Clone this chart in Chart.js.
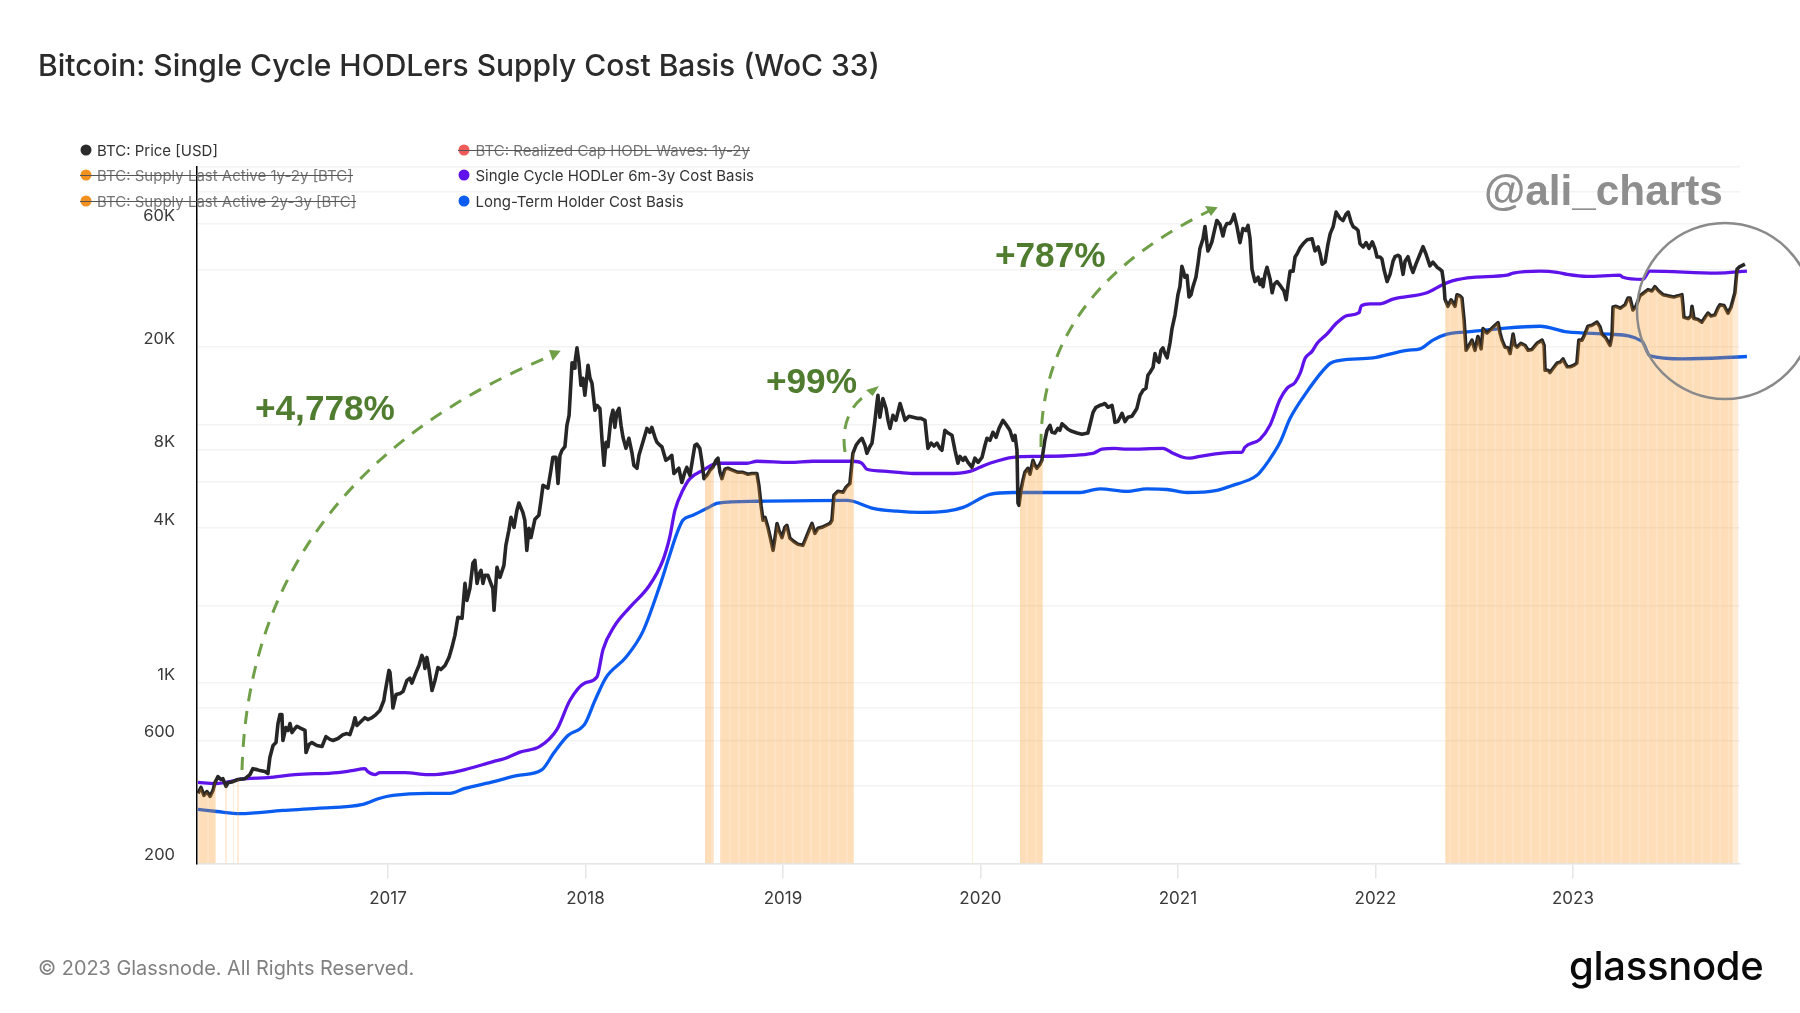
<!DOCTYPE html>
<html><head><meta charset="utf-8">
<script src="https://cdn.jsdelivr.net/npm/chart.js@4"></script>
<style>
html,body{margin:0;padding:0;background:#fff;width:1800px;height:1013px;overflow:hidden}
#wrap{position:relative;width:1800px;height:1013px;font-family:Inter,sans-serif}
canvas{position:absolute;left:0;top:0}
.t{position:absolute;white-space:nowrap;line-height:1}
.lg{position:absolute;white-space:nowrap;font-size:15px;line-height:1;color:#333;transform:translateY(-50%)}
.dot{position:absolute;width:11px;height:11px;border-radius:50%;transform:translate(-50%,-50%)}
.st{position:absolute;height:1.2px;background:#555}
.off{color:#777}
.g{font-family:"Liberation Sans",Arial,sans-serif;font-weight:700;font-size:35.2px;color:#4f7c2f}
</style></head><body>
<div id="wrap">
<canvas id="c" width="1800" height="1013"></canvas>
<div class="t" style="left:38px;top:50px;font-size:30px;font-weight:500;color:#2b2b2b" id="title">Bitcoin: Single Cycle HODLers Supply Cost Basis (WoC 33)</div>
<div id="legend"></div>
<div class="t g" style="left:255px;top:390px">+4,778%</div>
<div class="t g" style="left:766px;top:363px">+99%</div>
<div class="t g" style="left:995px;top:237px">+787%</div>
<div class="t" style="left:1484px;top:170px;font-family:'Liberation Sans',Arial,sans-serif;font-weight:700;font-size:42.3px;color:#8e8e8e">@ali_charts</div>
<div class="t" style="left:38px;top:958.5px;font-size:19.9px;color:#808080">© 2023 Glassnode. All Rights Reserved.</div>
<div class="t" style="left:1569px;top:946px;font-size:40px;font-weight:500;color:#0a0a0a;letter-spacing:-.3px">glassnode</div>
</div>
<script>
const legendLeft=[["BTC: Price [USD]","#2b2b2b",false],["BTC: Supply Last Active 1y-2y [BTC]","#f2911f",true],["BTC: Supply Last Active 2y-3y [BTC]","#f2911f",true]];
const legendRight=[["BTC: Realized Cap HODL Waves: 1y-2y","#ef5a5a",true],["Single Cycle HODLer 6m-3y Cost Basis","#5f12ea",false],["Long-Term Holder Cost Basis","#0a5cf0",false]];
const xTickYears=[2017,2018,2019,2020,2021,2022,2023];
const yGridValues=[200,400,600,800,1000,2000,4000,6000,8000,10000,20000,40000,60000,80000,100000];
const yLabels={200:"200",600:"600",1000:"1K",4000:"4K",8000:"8K",20000:"20K",60000:"60K"};

const priceYears=[
2016.038,2016.053,2016.068,2016.083,2016.099,2016.114,2016.124,2016.139,2016.154,2016.164,2016.180,2016.190,2016.215,2016.240,2016.276,2016.301,2016.316,2016.337,2016.352,2016.377,2016.392,2016.402,2016.418,2016.433,2016.443,2016.453,2016.463,2016.468,2016.483,2016.494,2016.504,2016.514,2016.529,2016.539,2016.559,2016.580,2016.585,2016.600,2016.615,2016.640,2016.666,2016.686,2016.706,2016.722,2016.747,2016.772,2016.792,2016.807,2016.823,2016.833,2016.843,2016.858,2016.883,2016.898,2016.919,2016.939,2016.959,2016.979,2016.984,
2017.005,2017.010,2017.020,2017.025,2017.041,2017.061,2017.076,2017.096,2017.111,2017.121,2017.142,2017.157,2017.172,2017.182,2017.187,2017.197,2017.207,2017.223,2017.238,2017.253,2017.268,2017.289,2017.309,2017.324,2017.339,2017.354,2017.375,2017.390,2017.400,2017.415,2017.430,2017.440,2017.451,2017.461,2017.471,2017.481,2017.491,2017.506,2017.521,2017.531,2017.537,2017.552,2017.567,2017.587,2017.597,2017.612,2017.623,2017.638,2017.653,2017.663,2017.683,2017.693,2017.703,2017.714,2017.724,2017.744,2017.764,2017.775,2017.785,2017.810,2017.825,2017.835,2017.851,2017.861,2017.871,2017.881,2017.896,2017.906,2017.917,2017.927,2017.932,2017.942,2017.947,2017.957,2017.967,2017.977,2017.987,2017.997,
2018.013,2018.023,2018.033,2018.048,2018.058,2018.073,2018.084,2018.094,2018.104,2018.114,2018.129,2018.139,2018.149,2018.159,2018.170,2018.180,2018.190,2018.205,2018.220,2018.235,2018.245,2018.261,2018.271,2018.286,2018.301,2018.311,2018.326,2018.336,2018.352,2018.362,2018.377,2018.387,2018.407,2018.422,2018.437,2018.448,2018.463,2018.473,2018.488,2018.503,2018.513,2018.529,2018.544,2018.554,2018.564,2018.579,2018.590,2018.600,2018.615,2018.630,2018.645,2018.661,2018.671,2018.681,2018.691,2018.706,2018.721,2018.747,2018.772,2018.797,2018.823,2018.843,2018.868,2018.878,2018.889,2018.899,2018.909,2018.924,2018.939,2018.950,2018.960,2018.970,2018.980,2018.995,
2019.010,2019.020,2019.035,2019.056,2019.076,2019.101,2019.116,2019.132,2019.147,2019.162,2019.177,2019.197,2019.218,2019.238,2019.248,2019.258,2019.278,2019.304,2019.319,2019.339,2019.354,2019.370,2019.385,2019.400,2019.415,2019.425,2019.440,2019.451,2019.466,2019.476,2019.481,2019.491,2019.506,2019.522,2019.532,2019.542,2019.557,2019.572,2019.593,2019.608,2019.618,2019.638,2019.659,2019.679,2019.699,2019.719,2019.734,2019.750,2019.765,2019.780,2019.795,2019.805,2019.820,2019.836,2019.856,2019.871,2019.886,2019.896,2019.912,2019.922,2019.937,2019.957,2019.972,2019.988,
2020.008,2020.023,2020.033,2020.048,2020.063,2020.079,2020.094,2020.114,2020.129,2020.149,2020.165,2020.175,2020.185,2020.190,2020.195,2020.205,2020.215,2020.225,2020.240,2020.251,2020.266,2020.276,2020.286,2020.301,2020.311,2020.326,2020.337,2020.352,2020.362,2020.377,2020.392,2020.402,2020.413,2020.428,2020.443,2020.463,2020.489,2020.514,2020.544,2020.554,2020.570,2020.585,2020.605,2020.620,2020.630,2020.646,2020.666,2020.676,2020.681,2020.696,2020.717,2020.732,2020.747,2020.767,2020.792,2020.808,2020.823,2020.838,2020.848,2020.858,2020.874,2020.884,2020.894,2020.904,2020.914,2020.924,2020.934,2020.945,2020.960,2020.970,2020.985,
2021.000,2021.010,2021.020,2021.030,2021.035,2021.046,2021.056,2021.066,2021.076,2021.091,2021.101,2021.111,2021.127,2021.137,2021.147,2021.152,2021.162,2021.172,2021.187,2021.197,2021.213,2021.228,2021.238,2021.248,2021.263,2021.273,2021.284,2021.299,2021.314,2021.329,2021.344,2021.355,2021.365,2021.375,2021.390,2021.406,2021.416,2021.426,2021.431,2021.441,2021.451,2021.467,2021.477,2021.487,2021.502,2021.522,2021.537,2021.548,2021.558,2021.568,2021.583,2021.593,2021.603,2021.619,2021.634,2021.654,2021.679,2021.694,2021.710,2021.720,2021.730,2021.745,2021.760,2021.771,2021.786,2021.801,2021.821,2021.836,2021.851,2021.862,2021.877,2021.887,2021.902,2021.912,2021.922,2021.938,2021.953,2021.968,2021.984,2021.998,
2022.008,2022.023,2022.033,2022.043,2022.059,2022.074,2022.089,2022.099,2022.114,2022.124,2022.140,2022.150,2022.165,2022.180,2022.190,2022.205,2022.226,2022.241,2022.256,2022.276,2022.291,2022.312,2022.327,2022.337,2022.347,2022.352,2022.367,2022.383,2022.403,2022.413,2022.428,2022.438,2022.449,2022.459,2022.474,2022.489,2022.504,2022.519,2022.535,2022.545,2022.565,2022.580,2022.600,2022.621,2022.631,2022.641,2022.656,2022.671,2022.682,2022.697,2022.707,2022.717,2022.737,2022.758,2022.773,2022.793,2022.818,2022.844,2022.854,2022.859,2022.874,2022.884,2022.900,2022.920,2022.935,2022.950,2022.960,2022.971,2022.986,
2023.005,2023.020,2023.030,2023.046,2023.061,2023.076,2023.096,2023.122,2023.137,2023.147,2023.167,2023.188,2023.198,2023.203,2023.218,2023.239,2023.264,2023.279,2023.289,2023.304,2023.319,2023.339,2023.360,2023.380,2023.400,2023.415,2023.436,2023.456,2023.481,2023.511,2023.532,2023.552,2023.557,2023.562,2023.583,2023.598,2023.603,2023.613,2023.633,2023.653,2023.669,2023.684,2023.699,2023.719,2023.734,2023.744,2023.765,2023.785,2023.800,2023.820,2023.831,2023.841,2023.871];
const priceValues=[
374,394,367,380,364,384,412,434,423,426,398,411,415,423,426,442,466,462,458,454,446,515,573,588,697,755,755,599,672,655,697,643,667,680,667,655,538,578,588,573,568,620,605,599,610,631,637,631,685,734,685,703,734,722,734,755,783,856,908,
1119,1100,911,800,903,911,927,1024,1044,1000,1100,1170,1280,1224,1140,1257,1140,936,1024,1148,1128,1170,1257,1375,1530,1797,1781,2433,2091,2327,2909,2988,2433,2636,2733,2433,2613,2613,2433,2327,1913,2807,2566,2857,3415,3904,4385,4009,4667,4980,4581,4269,3266,3976,3660,4306,4463,5103,5833,5690,6668,7490,7490,5930,7622,7970,8230,9961,10890,14880,17400,16570,17470,19870,17470,14231,15150,13017,
17010,15150,14500,11387,11906,11580,8714,6972,8560,8230,10600,11387,9780,11180,11580,9961,8950,8110,8870,7830,6972,6790,7622,8334,9111,9690,9360,9780,8950,8560,8334,8230,7290,7430,7622,6480,6668,6790,5980,6550,6850,6377,7490,8334,8420,8110,7160,6190,6377,6668,6850,7290,7430,6550,6190,6730,6790,6668,6550,6550,6440,6480,6480,5833,4880,4269,4385,4009,3571,3266,3660,4150,3904,3660,
4009,4083,3640,3530,3450,3415,3640,3904,4150,3800,3976,4009,4083,4150,4269,5335,5530,5480,5730,5930,7760,8334,8640,8870,8334,7760,8230,8500,10415,12220,13017,10700,12650,11580,10415,9690,10890,10415,12100,11100,10415,10800,10700,10600,10600,10415,8110,8500,8280,8500,8110,7970,9527,9300,9111,7970,7100,7550,7290,7490,7160,6850,7430,7160,
7490,8334,8870,8714,9360,8950,9690,10415,10050,9527,8714,9111,7970,4980,4880,5580,6099,6550,6790,6440,7290,6972,6790,7030,7290,8714,9527,9961,9360,9300,9690,9527,10100,9870,9620,9440,9300,9200,9300,9961,11180,11700,11906,12000,12100,11700,11906,10890,10230,10300,11080,10300,10700,10800,11580,13017,13610,13850,15559,15950,16700,18900,17786,17470,19445,19870,18900,18190,20800,23600,26630,
31930,34300,41100,38800,37300,37900,31300,31930,34300,37300,41930,48050,52610,58600,50280,47200,48900,51200,57610,61900,59700,53900,58100,60290,60290,61900,65400,58600,50800,57610,56600,59200,52610,40070,35900,37300,34970,36590,34300,38290,40800,36590,32500,34970,35900,34300,33000,30520,34970,39400,39400,44700,45920,48600,50280,52100,52610,47200,48900,45920,41930,42700,50280,55060,58600,66700,63090,61900,65400,66700,60900,58600,57610,56600,50280,48900,50800,48300,51200,48050,
44700,44700,43880,40070,35900,38290,43000,44800,45400,44800,38290,43000,44800,40800,39000,41930,45920,49000,45920,41300,42700,40800,40070,39400,34970,30700,28800,30520,28800,31930,31600,31000,25450,19445,20300,21290,19445,22000,19700,23600,22700,23270,24100,24900,22700,21290,20000,19900,18900,22500,20300,20000,20700,20300,19445,19600,20700,21290,20300,16268,16268,15950,16570,17350,17470,18000,17350,16800,16800,
17010,17350,21290,21290,22500,24100,24320,25000,24000,22500,21700,20300,22230,28600,28800,28300,29160,31000,31000,27870,28800,31600,32500,33400,33000,34300,32900,31930,31600,31300,31600,31930,29160,26100,25800,26400,28800,25800,25600,25000,26100,27100,26400,26630,28300,29160,29000,27100,28500,32500,40070,40800,41930];

const purpleYears=[2016.038,2016.124,2016.276,2016.392,2016.529,2016.747,2016.817,2016.883,2016.898,2016.934,2016.959,2017.086,2017.202,2017.238,2017.324,2017.390,2017.536,2017.592,2017.668,2017.769,2017.855,2017.921,2017.997,2018.058,2018.089,2018.144,2018.230,2018.321,2018.392,2018.427,2018.453,2018.493,2018.529,2018.595,2018.671,2018.818,2018.868,2019.035,2019.152,2019.354,2019.400,2019.425,2019.527,2019.659,2019.831,2019.947,2019.998,2020.048,2020.165,2020.301,2020.570,2020.615,2020.681,2020.742,2020.924,2020.975,2021.025,2021.061,2021.111,2021.278,2021.324,2021.339,2021.415,2021.466,2021.517,2021.552,2021.593,2021.619,2021.644,2021.679,2021.705,2021.755,2021.806,2021.856,2021.917,2021.928,2021.973,2022.023,2022.089,2022.261,2022.342,2022.393,2022.494,2022.666,2022.697,2022.834,2022.920,2022.971,2023.071,2023.238,2023.253,2023.354,2023.390,2023.729,2023.881];
const purpleValues=[412,408,426,430,442,450,458,466,454,442,450,450,442,442,450,462,497,510,540,568,660,856,1000,1055,1350,1650,1985,2370,2988,3680,4667,5579,6190,6668,7100,7100,7230,7160,7230,7230,7100,6730,6610,6480,6480,6610,6850,7100,7490,7550,7760,8050,8110,8050,8110,7760,7490,7430,7550,7830,7830,8190,8790,9961,12560,13850,14600,15850,18100,19260,20700,22500,24900,26500,27200,28900,29400,29400,30700,32500,34970,36200,37300,38000,38700,39400,39000,38290,37600,38000,37300,36590,39400,38700,39400];

const holderYears=[2016.038,2016.134,2016.250,2016.468,2016.640,2016.873,2016.959,2017.025,2017.202,2017.314,2017.390,2017.536,2017.653,2017.780,2017.841,2017.911,2017.997,2018.048,2018.104,2018.205,2018.291,2018.377,2018.418,2018.463,2018.493,2018.544,2018.615,2018.671,2018.868,2019.324,2019.354,2019.456,2019.577,2019.693,2019.831,2019.912,2020.048,2020.165,2020.337,2020.504,2020.605,2020.742,2020.843,2020.945,2021.046,2021.197,2021.278,2021.365,2021.400,2021.415,2021.461,2021.517,2021.568,2021.634,2021.771,2021.821,2021.988,2022.160,2022.226,2022.291,2022.362,2022.463,2022.631,2022.834,2022.971,2023.188,2023.349,2023.390,2023.557,2023.881];
const holderValues=[324,318,312,321,327,339,358,367,374,374,391,415,438,462,538,626,695,856,1050,1258,1585,2390,2988,3800,4269,4463,4750,4980,5060,5103,5060,4750,4630,4581,4630,4790,5380,5470,5470,5470,5650,5530,5650,5620,5470,5579,5833,6150,6377,6550,7290,8560,10600,12800,17300,17786,18190,19445,19700,21290,22450,22900,23600,24100,22900,22450,21100,18500,18000,18400];

const bandStarts=[2016.038,2018.605,2018.681,2020.200,2022.353];
const bandEnds=[2016.128,2018.650,2019.359,2020.316,2023.810];
const bandStartValues=[374,6300,6550,5100,30700];
const bandEndValues=[420,6950,7900,7700,30000];
const faintStarts=[2016.175,2016.214,2016.235,2019.957,2023.810];
const faintEnds=[2016.185,2016.220,2016.247,2019.962,2023.838];
const faintStartValues=[409,415,420,6850,30000];
const faintEndValues=[405,418,423,6900,40000];

const pts=(xs,ys)=>xs.map((x,i)=>({x,y:ys[i]}));
function bandPoints(st,en,sv,ev){
  const out=[];
  st.forEach((s,b)=>{
    out.push({x:s,y:sv[b]});
    priceYears.forEach((yr,i)=>{if(yr>s&&yr<en[b])out.push({x:yr,y:priceValues[i]});});
    out.push({x:en[b],y:ev[b]});
    out.push({x:en[b]+0.0005,y:null});
  });
  return out;
}
// faint day-bar striping of the orange area
const pc=document.createElement('canvas');pc.width=9;pc.height=4;
const px=pc.getContext('2d');
px.fillStyle='rgba(247,147,26,0.31)';px.fillRect(0,0,9,4);
px.clearRect(0,0,2,4);px.fillStyle='rgba(247,147,26,0.26)';px.fillRect(0,0,2,4);
const stripes=px.createPattern(pc,'repeat');

// legend (real text)
const lg=document.getElementById('legend');
[[legendLeft,86,97],[legendRight,464,475.5]].forEach(([items,dx,tx])=>{
  items.forEach(([name,col,off],i)=>{
    const y=[150,175,200.5][i];
    const d=document.createElement('div');d.className='dot';d.style.cssText=`left:${dx}px;top:${y}px;background:${col}`;lg.appendChild(d);
    const t=document.createElement('div');t.className='lg'+(off?' off':'');t.style.cssText=`left:${tx}px;top:${y}px`;t.textContent=name;lg.appendChild(t);
    if(off){const w=t.getBoundingClientRect().width;
      const s=document.createElement('div');s.className='st';s.style.cssText=`left:${dx-6}px;top:${y}px;width:${tx+w-dx+6}px`;lg.appendChild(s);}
  });
});

function arc(ctx,p,tri){
  ctx.save();
  ctx.strokeStyle='#6f9f47';ctx.fillStyle='#6f9f47';ctx.lineWidth=3;ctx.setLineDash([13,10]);
  ctx.beginPath();ctx.moveTo(p[0],p[1]);ctx.bezierCurveTo(p[2],p[3],p[4],p[5],p[6],p[7]);ctx.stroke();
  ctx.setLineDash([]);
  ctx.beginPath();ctx.moveTo(tri[0],tri[1]);ctx.lineTo(tri[2],tri[3]);ctx.lineTo(tri[4],tri[5]);ctx.closePath();ctx.fill();
  ctx.restore();
}
const annotate={id:'annotate',afterDraw(ch){
  const c=ch.ctx;
  arc(c,[242,770,248,560,370,430,553,355],[549,350,560.7,350.7,552.7,360.7]);
  arc(c,[845,452,840,420,855,400,871,392],[879,386,866,390,872.7,396]);
  arc(c,[1041,447,1040,330,1110,260,1209,211],[1205,206,1217.7,207.3,1211,216]);
  c.save();c.strokeStyle='#8a8a8a';c.lineWidth=2.5;c.beginPath();c.arc(1725,311,88,0,Math.PI*2);c.stroke();c.restore();
}};

new Chart(document.getElementById('c'),{
  type:'line',
  plugins:[annotate],
  data:{datasets:[
    {label:'Supply band',data:bandPoints(bandStarts,bandEnds,bandStartValues,bandEndValues),borderWidth:0,borderColor:'transparent',backgroundColor:stripes,fill:'start',pointRadius:0,tension:0,spanGaps:false},
    {label:'Supply band faint',data:bandPoints(faintStarts,faintEnds,faintStartValues,faintEndValues),borderWidth:0,borderColor:'transparent',backgroundColor:'rgba(247,147,26,0.18)',fill:'start',pointRadius:0,tension:0,spanGaps:false},
    {label:'BTC: Price [USD]',data:pts(priceYears,priceValues),borderColor:'#262626',borderWidth:3.6,pointRadius:0,tension:0,fill:false,borderJoinStyle:'round',clip:false},
    {label:'Single Cycle HODLer 6m-3y Cost Basis',data:pts(purpleYears,purpleValues),borderColor:'#5f12ea',borderWidth:3.3,pointRadius:0,cubicInterpolationMode:'monotone',fill:false,borderJoinStyle:'round',clip:false},
    {label:'Long-Term Holder Cost Basis',data:pts(holderYears,holderValues),borderColor:'#0a5cf0',borderWidth:3.3,pointRadius:0,cubicInterpolationMode:'monotone',fill:false,borderJoinStyle:'round',clip:false}
  ]},
  options:{
    responsive:false,animation:false,devicePixelRatio:1,
    layout:{padding:{left:0,right:60,top:166.7,bottom:0}},
    plugins:{legend:{display:false},title:{display:false},tooltip:{enabled:false}},
    scales:{
      x:{type:'linear',min:2016.033,max:2023.846,
        afterBuildTicks:s=>{s.ticks=xTickYears.map(v=>({value:v}));},
        afterFit:s=>{s.height=149.5;},
        border:{display:true,color:'#e6e6e6',width:1.5},
        grid:{drawOnChartArea:false,drawTicks:true,tickLength:15,color:'#e6e6e6',lineWidth:1.5},
        ticks:{autoSkip:false,maxRotation:0,minRotation:0,padding:10.5,color:'#3a3a3a',font:{family:'Inter',size:17},callback:v=>String(v)}},
      y:{type:'logarithmic',min:200,max:100000,
        afterBuildTicks:s=>{s.ticks=yGridValues.map(v=>({value:v}));},
        afterFit:s=>{s.width=197;},
        border:{display:true,color:'#000',width:1.5},
        grid:{drawTicks:false,color:'#f3f3f3',lineWidth:1.5},
        ticks:{autoSkip:false,padding:22,labelOffset:-8,color:'#3a3a3a',font:{family:'Inter',size:16.5},callback:v=>yLabels[v]||''}}
    }
  }
});
</script>
</body></html>
